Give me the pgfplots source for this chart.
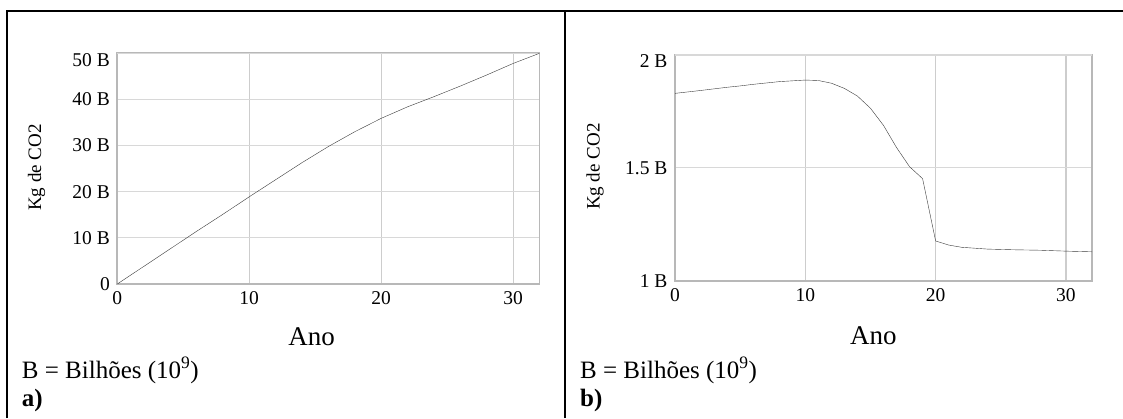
\documentclass[border=0pt]{standalone}
\usepackage{fontspec}
\setmainfont{Liberation Serif}
\usepackage{pgfplots}
\pgfplotsset{compat=1.18}

\definecolor{framec}{HTML}{B8B8B8}
\definecolor{gridc}{HTML}{D8D8D8}
\definecolor{gridv}{HTML}{CDCDCD}
\definecolor{curvec}{HTML}{3A3A3A}

\pgfplotsset{
  panel/.style={
    scale only axis,
    anchor=south west,
    xmin=0, xmax=32,
    xtick={0,10,20,30},
    xmajorgrids, ymajorgrids,
    x grid style={gridv, line width=1.2pt},
    y grid style={gridc, line width=1.2pt},
    axis line style={framec, line width=1.9pt},
    major tick length=0pt,
    /pgf/number format/assume math mode=true,
    x tick label style={font=\fontsize{19.5}{19.5}\selectfont, text=black, yshift=-4pt},
    y tick label style={font=\fontsize{19.5}{19.5}\selectfont, text=black, xshift=-4pt},
    extra y tick style={y tick label style={yshift=-6.5pt}},
    cycle list={{curvec, line width=1.4pt, mark=none}},
  }
}

\begin{document}
\begin{tikzpicture}[x=1pt,y=1pt]
\useasboundingbox (0,0) rectangle (1123,418);

% table rules around the two panels
\draw[line width=2pt] (6,407) -- (1123,407);
\draw[line width=2pt] (7,0) -- (7,408);
\draw[line width=2pt] (565,0) -- (565,408);

% a) cumulative emissions
\begin{axis}[panel,
  at={(117.3pt,134pt)}, width=422.2pt, height=230.7pt,
  ymin=0, ymax=50,
  ytick={0,10,20,30,40},
  yticklabels={0,10 B,20 B,30 B,40 B},
  extra y ticks={50}, extra y tick labels={50 B}]
\addplot coordinates {
  (0,0) (2,3.8) (4,7.6) (6,11.4) (8,15.1) (10,18.9) (12,22.6) (14,26.3)
  (16,29.8) (18,33.0) (20,35.9) (22,38.4) (24,40.6) (26,42.9) (28,45.3)
  (30,47.8) (32,50.0)};
\end{axis}

% b) yearly emissions
\begin{axis}[panel,
  at={(675pt,137.3pt)}, width=417pt, height=225.7pt,
  ymin=1, ymax=2,
  ytick={1,1.5},
  yticklabels={1 B,1.5 B},
  extra y ticks={2}, extra y tick labels={2 B}]
\addplot coordinates {
  (0,1.830) (2,1.843) (4,1.857) (5,1.863) (6,1.870) (8,1.882) (10,1.889)
  (11,1.887) (12,1.875) (13,1.852) (14,1.818) (15,1.764) (16,1.688)
  (17,1.590) (18,1.505) (19,1.452) (20,1.176) (21,1.158) (22,1.148)
  (24,1.140) (26,1.137) (28,1.135) (30,1.131) (32,1.128)};
\end{axis}

% axis titles
\node[anchor=base, font=\fontsize{27}{27}\selectfont] at (311.6,73) {Ano};
\node[anchor=base, font=\fontsize{27}{27}\selectfont] at (873.4,73.5) {Ano};
\node[rotate=90, font=\fontsize{19}{19}\selectfont] at (36.5,250.5) {Kg de CO2};
\node[rotate=90, font=\fontsize{19}{19}\selectfont] at (595,251.3) {Kg de CO2};

% captions
\node[anchor=base west, inner sep=0pt, font=\fontsize{25}{25}\selectfont] at (21.7,40) {B = Bilhões (10\textsuperscript{9})};
\node[anchor=base west, inner sep=0pt, font=\fontsize{25}{25}\selectfont\bfseries] at (21.7,11.5) {a)};
\node[anchor=base west, inner sep=0pt, font=\fontsize{25}{25}\selectfont] at (580,40) {B = Bilhões (10\textsuperscript{9})};
\node[anchor=base west, inner sep=0pt, font=\fontsize{25}{25}\selectfont\bfseries] at (580,11.5) {b)};
\end{tikzpicture}
\end{document}
